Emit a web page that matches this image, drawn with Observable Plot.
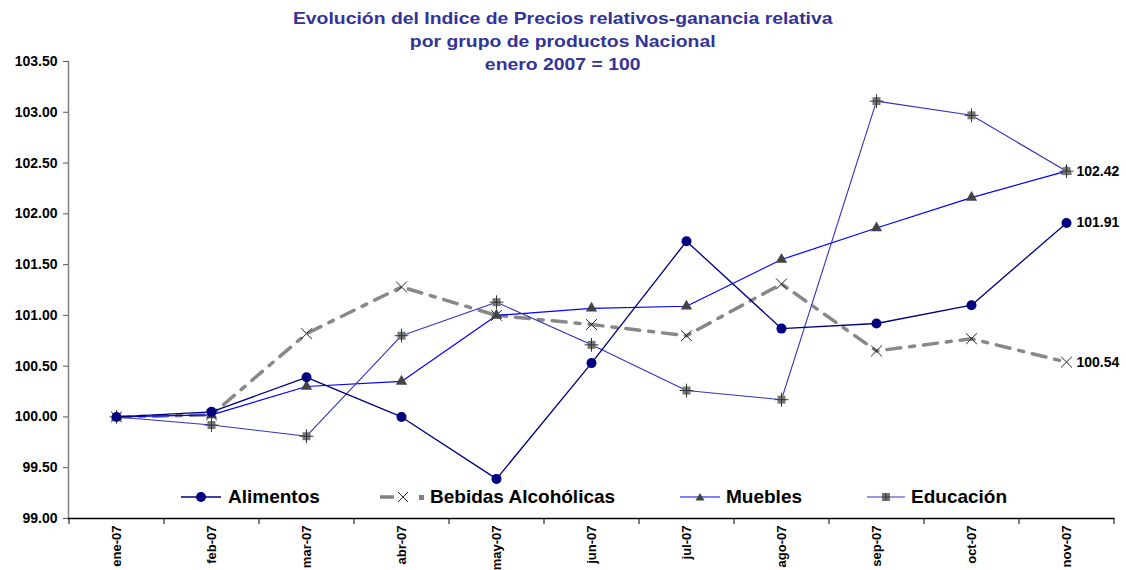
<!DOCTYPE html>
<html><head><meta charset="utf-8">
<script src="https://cdn.jsdelivr.net/npm/d3@7"></script>
<script src="https://cdn.jsdelivr.net/npm/@observablehq/plot@0.6"></script>
<style>
body{margin:0;background:#fff;font-family:"Liberation Sans",Arial,sans-serif;}
#wrap{position:relative;width:1126px;height:570px;}
#title{position:absolute;left:0;top:7px;width:1126px;text-align:center;color:#333399;font-weight:bold;font-size:17px;line-height:23px;transform:scaleX(1.14);transform-origin:565px 0;}
.leg{position:absolute;top:486px;height:22px;display:flex;align-items:center;font-weight:bold;font-size:19px;color:#000;}
.leg svg{margin-right:6px;}
</style></head>
<body><div id="wrap">
<div id="chart"></div>
<div id="title">Evolución del Indice de Precios relativos-ganancia relativa<br>por grupo de productos Nacional<br>enero 2007 = 100</div>
<div class="leg" style="left:181px"><svg width="41" height="12"><line x1="0" y1="6" x2="40" y2="6" stroke="#000080" stroke-width="1.3"/><circle cx="20" cy="6" r="5" fill="#000080"/></svg>Alimentos</div>
<div class="leg" style="left:380px"><svg width="44" height="12"><line x1="0" y1="6" x2="14" y2="6" stroke="#808080" stroke-width="3.5"/><path d="M18,1L28,11M28,1L18,11" stroke="#222" stroke-width="1"/><rect x="39" y="4" width="5" height="5" fill="#808080"/></svg>Bebidas Alcohólicas</div>
<div class="leg" style="left:680px"><svg width="40" height="12"><line x1="0" y1="6" x2="40" y2="6" stroke="#0000ff" stroke-width="1.2"/><path d="M20,2L24.5,9.5L15.5,9.5Z" fill="#444"/></svg>Muebles</div>
<div class="leg" style="left:867px"><svg width="38" height="12"><line x1="0" y1="6" x2="38" y2="6" stroke="#3333cc" stroke-width="1.2"/><rect x="15" y="2" width="8" height="8" fill="#777"/><path d="M19,2V10M15,6H23" stroke="#333" stroke-width="1"/></svg>Educación</div>
</div>
<script>
const months = ["ene-07","feb-07","mar-07","abr-07","may-07","jun-07","jul-07","ago-07","sep-07","oct-07","nov-07"];
const alimentos = [100.00,100.05,100.39,100.00,99.39,100.53,101.73,100.87,100.92,101.10,101.91];
const bebidas   = [100.00,100.02,100.82,101.28,101.00,100.91,100.80,101.31,100.65,100.77,100.54];
const muebles   = [100.00,100.02,100.30,100.35,101.00,101.07,101.09,101.55,101.86,102.16,102.42];
const educacion = [100.00,99.92,99.81,100.80,101.13,100.71,100.26,100.17,103.11,102.97,102.42];
const yTicks = [99,99.5,100,100.5,101,101.5,102,102.5,103,103.5];
const endLabels = [{m:"nov-07",v:102.42},{m:"nov-07",v:101.91},{m:"nov-07",v:100.54}];

const toRows = arr => months.map((m,i)=>({m, v: arr[i]}));
const A = toRows(alimentos), B = toRows(bebidas), M = toRows(muebles), E = toRows(educacion);

const W = 1126, ML = 68, MR = 13;
const half = (W - ML - MR) / months.length / 2;

const chart = Plot.plot({
  width: W, height: 570,
  marginLeft: ML, marginRight: MR, marginTop: 61, marginBottom: 52,
  style: {fontFamily: "'Liberation Sans', Arial, sans-serif", background: "transparent", color: "#000", overflow: "visible"},
  x: {type: "point", domain: months, padding: 0.5, label: null},
  y: {domain: [99, 103.5], label: null},
  marks: [
    Plot.axisY({ticks: yTicks, tickFormat: d => d.toFixed(2), tickSize: 5, tickPadding: 6, fontSize: 14, fontWeight: "bold", stroke: "#555"}),
    Plot.axisX({tickRotate: -90, tickSize: 0, tickPadding: 7, fontSize: 13, fontWeight: "bold"}),
    Plot.frame({anchor: "left", stroke: "#808080", strokeWidth: 1.5}),
    Plot.ruleX(months, {x: d => d, y1: 99, y2: 99, dx: -half, insetBottom: -6, stroke: "#000"}),
    Plot.ruleX([months[months.length-1]], {x: d => d, y1: 99, y2: 99, dx: half, insetBottom: -6, stroke: "#000"}),
    Plot.frame({anchor: "bottom", stroke: "#000", strokeWidth: 1.5}),
    Plot.line(B, {x: "m", y: "v", stroke: "#888", strokeWidth: 3.5, strokeDasharray: "14,9,5,9"}),
    Plot.line(M, {x: "m", y: "v", stroke: "#0000ff", strokeWidth: 1.2}),
    Plot.line(E, {x: "m", y: "v", stroke: "#3333bb", strokeWidth: 1.1}),
    Plot.line(A, {x: "m", y: "v", stroke: "#000080", strokeWidth: 1.3}),
    Plot.dot(B, {x: "m", y: "v", symbol: "times", r: 5, stroke: "#222", strokeWidth: 1}),
    Plot.dot(M, {x: "m", y: "v", symbol: "triangle", r: 4.2, fill: "#444", stroke: "none"}),
    Plot.dot(E, {x: "m", y: "v", symbol: "square", r: 4.5, fill: "#777", stroke: "none"}),
    Plot.dot(E, {x: "m", y: "v", symbol: "plus", r: 4.5, stroke: "#333", strokeWidth: 1}),
    Plot.dot(A, {x: "m", y: "v", symbol: "circle", r: 5, fill: "#000080", stroke: "none"}),
    Plot.text(endLabels, {x: "m", y: "v", text: d => d.v.toFixed(2), dx: 10, textAnchor: "start", fontSize: 14, fontWeight: "bold", fill: "#000"})
  ]
});
document.getElementById("chart").appendChild(chart);
</script>
</body></html>
